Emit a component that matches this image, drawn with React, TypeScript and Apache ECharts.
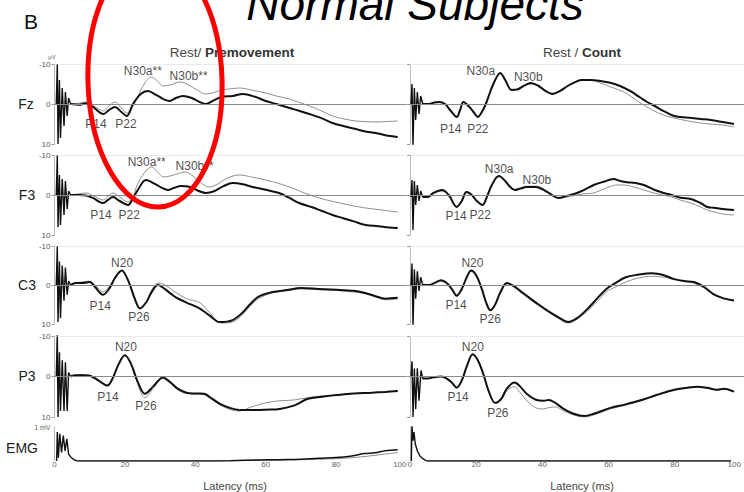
import React, { useEffect, useRef } from "react";
import * as echarts from "echarts";

// ---- Waveforms: [latency ms, amplitude µV] (negative plotted upward) ----

// Rest / Premovement column
const FZ_PRE_MOV = [[4.6,0],[7,0.2],[9,-0.2],[11,0.8],[13.9,2.5],[15.5,1.5],[17.2,0.75],[19,2],[20.5,3],[22.3,0],[24.5,-2.5],[26.5,-3.25],[29,-2.2],[31,-1.2],[32.7,-0.75],[34.5,-1.5],[36.5,-2],[39,-1.5],[41,-0.6],[43,0],[45,-0.8],[47.4,-1.75],[50.6,-2],[53.5,-2.5],[57,-1.8],[60,-0.75],[63,0],[66.8,1],[69.5,1.7],[72.4,2.5],[76,3.6],[79,4.75],[82,5.5],[85.6,6.25],[88,6.8],[91.3,7.25],[94,7.8],[97.5,8.25]];
const FZ_PRE_REST = [[4.6,0],[7,-0.2],[9,-0.5],[11,0.3],[13.9,1.75],[15.5,0.5],[17.2,-0.5],[19,1],[20.5,2.25],[22.3,0.5],[24,-2.5],[25.5,-5],[27.6,-6.75],[29.5,-5.5],[30.8,-4.5],[33,-4.8],[35.6,-5.5],[38,-4.8],[40.5,-3.5],[43,-2.5],[45,-2.8],[47.5,-3.5],[50,-3.8],[52.5,-4],[56,-3.5],[60,-2.75],[63,-2],[66.8,-1.25],[69.5,-0.4],[72.4,0.5],[76,1.8],[79,3],[82,3.7],[85.6,4.25],[88,4.4],[91.3,4.5],[94,4.4],[97.5,4.25]];
const F3_PRE_MOV = [[4.6,0],[7,0],[9,0.1],[11,0.8],[13.8,2],[15.2,1.2],[16.6,0.5],[18.5,1.5],[20.9,2.5],[22.3,0.8],[23.5,-1],[26,-3.75],[28.5,-2.8],[30.5,-1.8],[32.2,-1.25],[34,-1.8],[36,-2.25],[38.5,-2],[41,-1],[43,-0.5],[45.5,-1],[48,-2.2],[50.6,-3],[53.5,-2.7],[56.3,-2],[60,-1.3],[63.8,-0.5],[66.5,0.6],[69.5,2],[73,3],[76,4],[79,5],[82,5.8],[85,6.6],[88.4,7.5],[92,7.8],[95,8.1],[97.5,8.25]];
const F3_PRE_REST = [[4.6,0],[7,-0.3],[9,-0.5],[11,0.2],[13.8,1.25],[15.2,0.3],[16.6,-0.5],[18.5,0.5],[20.9,1.75],[22.3,0.5],[23.5,-2.5],[25.5,-5.5],[27.6,-7],[29.5,-5.5],[31,-4.5],[33,-4.8],[35,-5.3],[37,-5.75],[39,-5],[41,-3.5],[44,-2],[46.5,-2.8],[49,-4.2],[52.5,-5],[56,-4.5],[60,-3.75],[64,-2.8],[67.6,-1.75],[71,-0.5],[75.2,0.75],[79,1.6],[83.7,2.5],[88,3.2],[93,3.75],[97.5,4.25]];
const C3_PRE_MOV = [[4.6,0],[6,-0.5],[8,-0.5],[10,-0.75],[11.5,0.5],[13.8,2.5],[15.5,1],[17.3,-2],[19.1,-3.75],[21,-1],[22.8,3.5],[24.3,6],[26,4.5],[27.8,1.5],[29.4,0],[31,0.8],[33,2.2],[34.6,3.25],[37.5,4.5],[41.2,6],[44,7.8],[46.9,9.5],[50.6,9],[53.5,7],[55.5,5],[58,3],[62,1.8],[66,1.3],[70,0.8],[75,1],[80,1.2],[85,1.5],[88,2],[91,2.8],[94,3.5],[97.5,3.3]];
const C3_PRE_REST = [[4.6,0],[6,-0.5],[8,-0.8],[10,-1],[11.5,0],[13.8,1.75],[15.5,0.5],[17.3,-2],[19.1,-3.75],[21,-1],[22.8,3.5],[24.3,6],[26,4.5],[27.8,1],[29.4,-0.5],[31,-0.2],[33,1],[34.6,2],[37.5,3.5],[41.2,4.5],[44,7],[47.5,9.75],[50.6,9.5],[53.5,7.5],[55.5,5.5],[58,3.5],[62,2],[66,1.5],[70,1],[75,1.2],[80,1.4],[85,1.8],[88,2.2],[91,3],[94,3.8],[97.5,3.6]];
const P3_PRE_MOV = [[4.6,0],[6,-0.3],[8,-0.3],[10,-0.2],[12.5,1],[15,2.25],[16.5,0.5],[18.2,-3],[20,-5.25],[21.8,-3],[23.5,1],[25.7,4.25],[28,2.5],[30.8,0.25],[33,1.5],[35,3],[37.5,4],[40,4.2],[42.5,4.25],[44,5],[47,6.75],[50,7.8],[52.6,8.25],[56,8.3],[60,8.2],[64,8],[68,7.2],[72,5.5],[76,5],[80,4.6],[85,4.2],[90,4],[94,3.8],[97.5,3.6]];
const P3_PRE_REST = [[4.6,0],[6,-0.3],[8,-0.5],[10,-0.3],[12.5,0.8],[15,2],[16.5,0.3],[18.2,-3],[20,-5.25],[21.8,-3],[23.5,1.5],[25.7,5.25],[28,3],[30.8,0.5],[33,1.8],[35,3.3],[37.5,4.2],[40,4.3],[42.5,4.5],[44,5.3],[47,7],[50,8.2],[52.6,8.5],[56,7.5],[60,6.5],[64,6],[68,5.8],[72,5.2],[76,4.8],[80,4.5],[85,4.2],[90,4],[94,3.8],[97.5,3.6]];
const EMG_PRE_MOV = [[6.5,0],[20,0],[40,0],[50,0.01],[58,0.03],[64,0.04],[70,0.05],[75,0.08],[80,0.1],[84,0.14],[88,0.22],[91,0.24],[94,0.3],[97.5,0.33]];
const EMG_PRE_REST = [[6.5,0],[40,0],[60,0.02],[75,0.05],[85,0.1],[92,0.18],[97.5,0.25]];

// Rest / Count column
const FZ_CNT_CNT = [[3.8,0],[5.5,0],[7,-0.3],[8.7,-0.5],[10.5,0],[12,1.5],[14,3.25],[15,1.5],[16,-0.5],[17.5,0.5],[19,2],[20.3,3.25],[21.5,2],[22.7,0],[24,-3],[25.5,-6],[27,-7.75],[28.5,-6],[30.4,-3.5],[32,-3.6],[34,-4.5],[36.2,-5.25],[38.5,-4.5],[40.5,-3.3],[42.6,-2.5],[45,-3.3],[47.2,-4.5],[49,-5.3],[51.3,-6],[54,-6],[57,-5.75],[60,-5.3],[62.9,-4.5],[66,-3.2],[68.7,-1.75],[71,-0.5],[73.3,0.5],[76,1.8],[79.1,3],[83,3.4],[87,3.75],[90,4],[93.6,4.5],[97,5]];
const FZ_CNT_REST = [[3.8,0],[5.5,0],[7,-0.3],[8.7,-0.5],[10.5,0],[12,1.5],[14,3],[15,1.3],[16,-0.5],[17.5,0.5],[19,2],[20.3,3],[21.5,2],[22.7,0],[24,-3],[25.5,-6],[27,-7.5],[28.5,-6],[30.4,-3.7],[32,-3.8],[34,-4.6],[36.2,-5],[38.5,-4.5],[40.5,-3.5],[42.6,-2.7],[45,-3.3],[47.2,-4.5],[49,-5.3],[51.3,-6],[54,-6],[57,-5.25],[60,-4.3],[64.6,-2.75],[68,-0.8],[72.5,1.5],[76,2.8],[79.1,3.5],[83,4.2],[87,4.75],[90,5],[93.6,5.25],[97,5.75]];
const F3_CNT_CNT = [[3.8,0.5],[5.3,0.5],[7,-0.5],[9.6,-1.25],[11.6,0],[14,3],[15.5,1.5],[16.9,-0.75],[18.5,0],[20,1.5],[21.7,2.5],[23,0.5],[24.5,-2.5],[26.6,-4.75],[28.5,-3.5],[30,-2],[31.4,-1.25],[33,-1.6],[35,-2],[37.7,-2],[40,-1.3],[42,-0.3],[44.4,0.75],[47,0.2],[50,-0.5],[52,-1.2],[55,-2.5],[58,-3.3],[60.9,-4],[63,-3.5],[65,-3.2],[67.5,-3],[70,-2.5],[73.3,-1.25],[76,-0.5],[78.3,0],[81,0.7],[84,1],[87,2],[89,3],[91,3.2],[93.6,3.5],[97,3.75]];
const F3_CNT_REST = [[3.8,0.5],[5.3,0.5],[7,-0.5],[9.6,-1],[11.6,0],[14,2.8],[15.5,1.3],[16.9,-0.75],[18.5,0],[20,1.5],[21.7,2.3],[23,0.5],[24.5,-2.5],[26.6,-4.75],[28.5,-3.5],[30,-2],[31.4,-1.4],[33,-1.8],[35,-2.2],[37.7,-2.2],[40,-1.5],[42,-0.3],[44.4,0.75],[47,0.5],[50,0],[52,-0.3],[55,-0.5],[58,-1.5],[62,-2.5],[64,-2.5],[67,-2],[70,-1.25],[73,-0.5],[78.3,0.5],[81,1.3],[84,2],[87,3],[89,3.75],[91,4.2],[93.6,4.75],[97,5]];
const C3_CNT_CNT = [[3.8,0],[5.8,0],[7.5,-0.6],[9.3,-1.25],[11,-0.5],[12.5,1],[14,2.75],[15.5,1],[17,-2],[18.3,-3.75],[19.8,-2.5],[21.5,1],[22.8,4.5],[24.1,6.5],[25.5,5],[27,2],[29,-0.5],[31,0.2],[33,1.5],[35.7,3.25],[38.5,5],[41.5,6.75],[44.5,8.3],[47.3,9.5],[50,8.5],[53,6.25],[56,3.5],[58.8,1],[61.5,-0.5],[64.6,-2],[68,-2.6],[72.5,-3],[76,-2.5],[79.1,-1.5],[82,-1],[85,-0.75],[88,0.5],[90.7,2.25],[93.5,3.3],[97,4]];
const C3_CNT_REST = [[3.8,0],[5.8,0],[7.5,-0.5],[9.3,-1],[11,-0.5],[12.5,1],[14,2.5],[15.5,1],[17,-2],[18.3,-3.5],[19.8,-2.5],[21.5,1],[22.8,4.5],[24.1,6.3],[25.5,5],[27,2],[29,-0.3],[31,0.5],[33,1.8],[35.7,3.6],[38.5,5.3],[41.5,7],[44.5,8.6],[47.3,9.75],[50,8.8],[53,6.8],[56,4.3],[58.8,1.75],[61.5,0.5],[64.6,-0.75],[68,-1.7],[72.5,-2.25],[76,-2],[79.1,-1.5],[82,-1],[85,-0.5],[88,0.7],[90.7,2.3],[93.5,3.4],[97,4.1]];
const P3_CNT_CNT = [[3.8,0.5],[5.3,0.5],[7,0.2],[9.3,0],[11,0.5],[12.5,1.5],[14,2.75],[15.5,1],[17,-2.5],[18.8,-5.5],[20.3,-4],[22,-0.5],[23.5,3.5],[25.5,6.5],[27.3,5.5],[29,3],[31.3,1.5],[33,2.5],[35,4.3],[37.7,5.75],[40,6],[41.5,5.8],[43.5,6.5],[46,8],[49,9.2],[52.2,9.75],[55,9.2],[60,7.75],[64,7],[69.6,5.75],[74,4.5],[79.1,3.25],[83,2.8],[86,2.5],[89,2.8],[91.9,3.25],[94,3],[97,3.75]];
const P3_CNT_REST = [[3.8,0.5],[5.3,0.5],[7,0.2],[9.3,0],[11,0.5],[12.5,1.5],[14,2.6],[15.5,1],[17,-2.5],[18.8,-5.3],[20.3,-4],[22,-0.5],[23.5,3.5],[25.5,6.5],[27.3,5.8],[29,3.5],[31.3,2.5],[33,4],[35,6],[37.7,7.75],[40,8],[41.5,7.7],[43.5,7.5],[46,8.5],[49,9.5],[52.2,10],[55,9.5],[60,8],[64,7.2],[69.6,5.9],[74,4.6],[79.1,3.4],[83,2.9],[86,2.6],[89,2.9],[91.9,3.3],[94,3.1],[97,3.8]];
const EMG_CNT_CNT = [[5,0],[30,0],[60,0],[97,0]];
const EMG_CNT_REST = [[5,0],[30,0],[60,0],[97,0]];

// Stimulus artefacts at the start of each sweep
const FZ_PRE_ART = [[0.5,0],[0.8,-10],[1.0,10],[1.4,-6],[1.7,8.5],[2.2,-4],[2.7,5.5],[3.1,-3],[3.6,3],[4.0,-1.5],[4.6,0]];
const F3_PRE_ART = [[0.5,0],[0.8,-10],[1.0,8],[1.4,-5],[1.7,7.5],[2.2,-4],[2.7,5],[3.1,-3.5],[3.6,3.5],[4.0,-1],[4.6,0]];
const C3_PRE_ART = [[0.5,0],[0.8,-10],[1.0,9.5],[1.4,-6],[1.7,8.5],[2.2,-5],[2.7,4],[3.1,-4.5],[3.6,2.5],[4.0,-1],[4.6,0]];
const P3_PRE_ART = [[0.5,0],[0.8,-11],[1.0,10],[1.4,-6],[1.7,8.5],[2.2,-4],[2.7,8.5],[3.1,-3.5],[3.6,8.5],[4.0,-1],[4.6,0]];
const EMG_PRE_ART = [[0.6,0],[0.8,0.85],[1.1,0.1],[1.5,0.8],[2.0,0.25],[2.5,0.75],[3.0,0.3],[3.5,0.65],[4.0,0.2],[4.6,0.12],[5.5,0.04],[6.5,0]];
const FZ_CNT_ART = [[0.3,0],[0.6,-5],[0.9,10.5],[1.3,-4],[1.7,4],[2.2,-3],[2.7,2.5],[3.2,-2],[3.8,0]];
const F3_CNT_ART = [[0.3,0.5],[0.6,-3.75],[0.9,8.75],[1.3,-3.5],[1.7,2.5],[2.2,-2.5],[2.7,1.5],[3.2,-1],[3.8,0.5]];
const C3_CNT_ART = [[0.3,0],[0.6,-5.5],[0.9,10.5],[1.3,-4],[1.7,3.5],[2.2,-3.5],[2.7,1.5],[3.2,-2],[3.8,0]];
const P3_CNT_ART = [[0.3,0],[0.6,-3.75],[0.9,10],[1.3,-2],[1.7,8],[2.2,-2],[2.7,6],[3.3,-1.5],[3.8,0.5]];
const EMG_CNT_ART = [[0.4,0],[0.6,1.05],[0.9,0.6],[1.2,0.85],[1.6,0.5],[2.2,0.3],[3.0,0.15],[4.0,0.06],[5.0,0]];

// Component labels: [latency ms, µV, text]
const FZ_PRE_LABELS = [[25.1,-8.25,"N30a**"],[38.1,-7,"N30b**"],[11.8,5,"P14"],[20.3,5,"P22"]];
const F3_PRE_LABELS = [[26.2,-8.25,"N30a**"],[39.8,-7.25,"N30b**"],[13.2,5,"P14"],[21.2,5,"P22"]];
const C3_PRE_LABELS = [[19.2,-5.6,"N20"],[13,5.4,"P14"],[24,8.2,"P26"]];
const P3_PRE_LABELS = [[20.3,-7.25,"N20"],[15.2,5,"P14"],[26,7.25,"P26"]];
const FZ_CNT_LABELS = [[21.2,-8.25,"N30a"],[35.4,-6.75,"N30b"],[12.2,6.25,"P14"],[20.3,6.25,"P22"]];
const F3_CNT_LABELS = [[26.7,-6.5,"N30a"],[38,-3.75,"N30b"],[13.8,5.25,"P14"],[21,5,"P22"]];
const C3_CNT_LABELS = [[18.7,-5.75,"N20"],[13.8,5.25,"P14"],[24,8.75,"P26"]];
const P3_CNT_LABELS = [[18.8,-7.25,"N20"],[14.4,5,"P14"],[26.3,9,"P26"]];

const ROW_NAMES = ["Fz", "F3", "C3", "P3", "EMG"];
const COLUMN_TITLES = [["Rest/ ", "Premovement"], ["Rest / ", "Count"]];
const LATENCY_TICKS = [0, 20, 40, 60, 80, 100];
const EEG_RANGE = [-10, 10];
const EMG_RANGE = [0, 1];

const PANELS = [
  [
    { thick: FZ_PRE_MOV, thin: FZ_PRE_REST, art: FZ_PRE_ART, labels: FZ_PRE_LABELS },
    { thick: FZ_CNT_CNT, thin: FZ_CNT_REST, art: FZ_CNT_ART, labels: FZ_CNT_LABELS },
  ],
  [
    { thick: F3_PRE_MOV, thin: F3_PRE_REST, art: F3_PRE_ART, labels: F3_PRE_LABELS },
    { thick: F3_CNT_CNT, thin: F3_CNT_REST, art: F3_CNT_ART, labels: F3_CNT_LABELS },
  ],
  [
    { thick: C3_PRE_MOV, thin: C3_PRE_REST, art: C3_PRE_ART, labels: C3_PRE_LABELS },
    { thick: C3_CNT_CNT, thin: C3_CNT_REST, art: C3_CNT_ART, labels: C3_CNT_LABELS },
  ],
  [
    { thick: P3_PRE_MOV, thin: P3_PRE_REST, art: P3_PRE_ART, labels: P3_PRE_LABELS },
    { thick: P3_CNT_CNT, thin: P3_CNT_REST, art: P3_CNT_ART, labels: P3_CNT_LABELS },
  ],
  [
    { thick: EMG_PRE_MOV, thin: EMG_PRE_REST, art: EMG_PRE_ART, labels: [] },
    { thick: EMG_CNT_CNT, thin: EMG_CNT_REST, art: EMG_CNT_ART, labels: [] },
  ],
];

// Layout (pixels)
const ROW_BOX = [
  { top: 64, height: 80 },
  { top: 155, height: 80 },
  { top: 246, height: 78 },
  { top: 336, height: 81 },
  { top: 427, height: 34 },
];
const COL_BOX = [
  { left: 54.5, width: 352 },
  { left: 410, width: 345 },
];
const FONT = "'Liberation Sans', Arial, sans-serif";

function buildOption() {
  const grid: any[] = [];
  const xAxis: any[] = [];
  const yAxis: any[] = [];
  const series: any[] = [];

  ROW_BOX.forEach((rb, r) => {
    const isEmg = r === ROW_BOX.length - 1;
    COL_BOX.forEach((cb, c) => {
      const gi = grid.length;
      grid.push({ left: cb.left, width: cb.width, top: rb.top, height: rb.height, containLabel: false });
      xAxis.push({
        gridIndex: gi,
        type: "value",
        min: LATENCY_TICKS[0],
        max: LATENCY_TICKS[LATENCY_TICKS.length - 1],
        interval: 20,
        show: isEmg,
        axisLine: { show: false },
        axisTick: { show: false },
        splitLine: { show: false },
        axisLabel: {
          show: isEmg,
          fontSize: 8,
          color: "#666",
          margin: -1,
          fontFamily: FONT,
          alignMaxLabel: "right",
        },
      });
      if (isEmg) {
        yAxis.push({
          gridIndex: gi,
          type: "value",
          min: EMG_RANGE[0],
          max: EMG_RANGE[1],
          interval: 1,
          axisLine: { show: true, lineStyle: { color: "#bbb", width: 1 } },
          axisTick: { show: false },
          splitLine: { show: false },
          axisLabel: {
            show: c === 0,
            fontSize: 7,
            color: "#666",
            margin: 4,
            fontFamily: FONT,
            formatter: (v: number) => (v === 1 ? "1 mV" : ""),
          },
        });
      } else {
        yAxis.push({
          gridIndex: gi,
          type: "value",
          min: EEG_RANGE[0],
          max: EEG_RANGE[1],
          interval: 10,
          inverse: true,
          axisLine: { show: true, lineStyle: { color: "#bbb", width: 1 } },
          axisTick: { show: true, length: 3, lineStyle: { color: "#999" } },
          splitLine: { show: false },
          axisLabel: { show: c === 0, fontSize: 8, color: "#555", margin: 4, fontFamily: FONT },
        });
      }

      const p = PANELS[r][c];
      series.push({
        type: "line",
        name: "Rest",
        xAxisIndex: gi,
        yAxisIndex: gi,
        data: p.thin,
        smooth: 0.35,
        showSymbol: false,
        lineStyle: { color: "#8e8e8e", width: 1 },
        z: 2,
      });
      series.push({
        type: "line",
        name: c === 0 ? "Premovement" : "Count",
        xAxisIndex: gi,
        yAxisIndex: gi,
        data: p.thick,
        smooth: 0.35,
        showSymbol: false,
        lineStyle: { color: "#111", width: isEmg ? 1.5 : 2 },
        z: 3,
        markLine: isEmg
          ? undefined
          : {
              silent: true,
              symbol: "none",
              label: { show: false },
              data: [
                { yAxis: 0, lineStyle: { color: "#8a8a8a", width: 1, type: "solid" } },
                { yAxis: -10, lineStyle: { color: "#d6d6d6", width: 1, type: "dotted" } },
              ],
            },
      });
      series.push({
        type: "line",
        name: "artefact",
        xAxisIndex: gi,
        yAxisIndex: gi,
        data: p.art,
        smooth: false,
        showSymbol: false,
        lineStyle: { color: "#111", width: 1.4 },
        z: 4,
      });
      if (p.labels.length) {
        series.push({
          type: "scatter",
          name: "labels",
          xAxisIndex: gi,
          yAxisIndex: gi,
          data: p.labels,
          symbolSize: 1,
          itemStyle: { color: "rgba(0,0,0,0)" },
          label: {
            show: true,
            position: "inside",
            fontSize: 12,
            color: "#1a1a1a",
            textBorderWidth: 0,
            textBorderColor: "transparent",
            fontFamily: FONT,
            formatter: (q: any) => q.value[2],
          },
          z: 5,
        });
      }
    });
  });

  const graphic: any[] = [
    {
      type: "text",
      x: 231,
      y: 4,
      style: {
        text: "\u201cNormal Subjects\u201d",
        font: `italic 46px ${FONT}`,
        fill: "#000",
        verticalAlign: "middle",
        align: "left",
      },
    },
    {
      type: "text",
      x: 31,
      y: 21,
      style: { text: "B", font: `21px ${FONT}`, fill: "#111", align: "center", verticalAlign: "middle" },
    },
    {
      type: "text",
      x: 52,
      y: 57,
      style: { text: "\u00b5V", font: `6px ${FONT}`, fill: "#666", align: "center", verticalAlign: "middle" },
    },
  ];

  const rowLabelPos = [
    [26, 104],
    [27, 195],
    [27, 285],
    [27, 376],
    [22, 448],
  ];
  ROW_NAMES.forEach((name, i) => {
    graphic.push({
      type: "text",
      x: rowLabelPos[i][0],
      y: rowLabelPos[i][1],
      style: { text: name, font: `14px ${FONT}`, fill: "#222", align: "center", verticalAlign: "middle" },
    });
  });

  const titleX = [232, 582];
  const latencyX = [235, 582];
  COLUMN_TITLES.forEach((t, i) => {
    graphic.push({
      type: "text",
      x: titleX[i],
      y: 52,
      style: {
        text: `{a|${t[0]}}{b|${t[1]}}`,
        align: "center",
        verticalAlign: "middle",
        rich: {
          a: { fontSize: 13.5, fontFamily: FONT, fill: "#444", color: "#444" },
          b: { fontSize: 13.5, fontFamily: FONT, fontWeight: "bold", fill: "#333", color: "#333" },
        },
      },
    });
    graphic.push({
      type: "text",
      x: latencyX[i],
      y: 486,
      style: { text: "Latency (ms)", font: `11px ${FONT}`, fill: "#444", align: "center", verticalAlign: "middle" },
    });
  });

  graphic.push({
    type: "ellipse",
    x: 155,
    y: 81,
    rotation: 0.03,
    shape: { cx: 0, cy: 0, rx: 67, ry: 126 },
    style: { fill: "none", stroke: "#f00", lineWidth: 5 },
    z: 100,
  });

  return {
    animation: false,
    backgroundColor: "#fff",
    textStyle: { fontFamily: FONT },
    grid,
    xAxis,
    yAxis,
    series,
    graphic,
  };
}

export default function App() {
  const ref = useRef<HTMLDivElement>(null);
  useEffect(() => {
    if (!ref.current) return;
    const chart = echarts.init(ref.current, null, { renderer: "svg" });
    chart.setOption(buildOption());
    return () => chart.dispose();
  }, []);
  return (
    <div
      ref={ref}
      style={{ position: "absolute", left: 0, top: 0, width: 744, height: 492, background: "#fff" }}
    />
  );
}
